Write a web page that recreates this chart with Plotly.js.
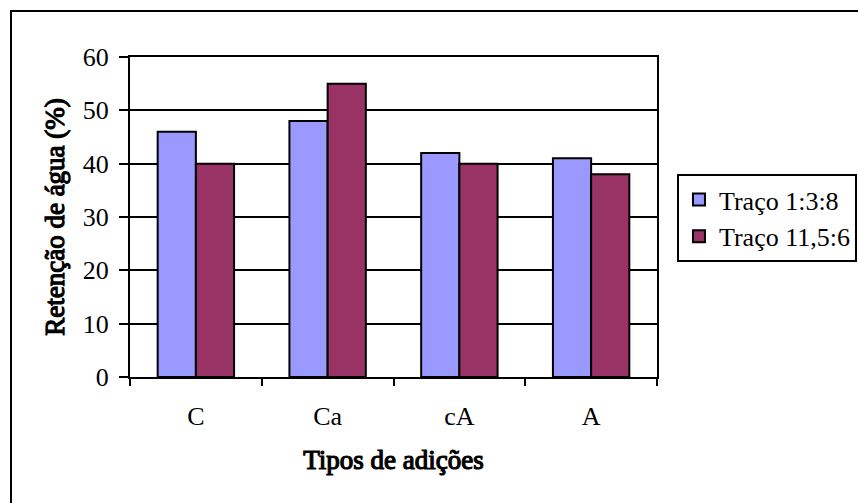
<!DOCTYPE html>
<html>
<head>
<meta charset="utf-8">
<script src="https://cdn.plot.ly/plotly-3.0.1.min.js"></script>
<style>
html,body{margin:0;padding:0;background:#fff;}
#chart{width:858px;height:503px;}
/* Liberation Serif has no installed bold face: emulate bold with a thin stroke */
#chart text.xtitle, #chart text.ytitle { stroke:#000 !important; stroke-width:1.2px !important; }
</style>
</head>
<body>
<div id="chart"></div>
<script>
var categories = ["C", "Ca", "cA", "A"];
var seriesNames = ["Traço 1:3:8", "Traço 11,5:6"];
var traco138 = [46, 48, 42, 41];
var traco1156 = [40, 55, 40, 38];
var yTickVals = [0, 10, 20, 30, 40, 50, 60];

var FONT = "Liberation Serif, Times New Roman, serif";

var traces = [
  {type: "bar", name: seriesNames[0], x: categories, y: traco138,
   marker: {color: "#9999FF", line: {color: "#000", width: 2}}},
  {type: "bar", name: seriesNames[1], x: categories, y: traco1156,
   marker: {color: "#993366", line: {color: "#000", width: 2}}}
];

var layout = {
  width: 858, height: 503,
  margin: {l: 130, r: 201, t: 57, b: 126},
  paper_bgcolor: "#fff", plot_bgcolor: "#fff",
  font: {family: FONT, size: 26, color: "#000"},
  barmode: "group", bargap: 0.42, bargroupgap: 0,
  showlegend: true,
  legend: {xref: "container", yref: "container", x: 0.9988, xanchor: "right", y: 0.654, yanchor: "top",
    bordercolor: "#000", borderwidth: 2, font: {family: FONT, size: 26, color: "#000"},
    traceorder: "normal", bgcolor: "#fff"},
  xaxis: {
    type: "category", showline: true, linecolor: "#000", linewidth: 2, mirror: true,
    ticks: "outside", tickson: "boundaries", ticklen: 7, tickwidth: 2, tickcolor: "#000",
    ticklabelstandoff: 15, showgrid: false, zeroline: false,
    tickfont: {family: FONT, size: 26, color: "#000"},
    title: {text: "Tipos de adições", font: {family: FONT, size: 27, color: "#000"}, standoff: 20}
  },
  yaxis: {
    range: [0, 60], tickvals: yTickVals, showline: true, linecolor: "#000", linewidth: 2, mirror: true,
    ticks: "outside", ticklen: 9, tickwidth: 2, tickcolor: "#000",
    showgrid: true, gridcolor: "#000", gridwidth: 2, zeroline: false,
    ticklabelstandoff: 5,
    tickfont: {family: FONT, size: 26, color: "#000"},
    title: {text: "Retenção de água (%)", font: {family: FONT, size: 27, color: "#000"}, standoff: 10}
  },
  shapes: [
    {type: "rect", xref: "paper", yref: "paper", x0: -0.2258, x1: 2, y0: -1, y1: 1.14375,
     line: {color: "#000", width: 2}, fillcolor: "rgba(0,0,0,0)", layer: "below"}
  ]
};

Plotly.newPlot("chart", traces, layout, {displayModeBar: false, staticPlot: true});
</script>
</body>
</html>
